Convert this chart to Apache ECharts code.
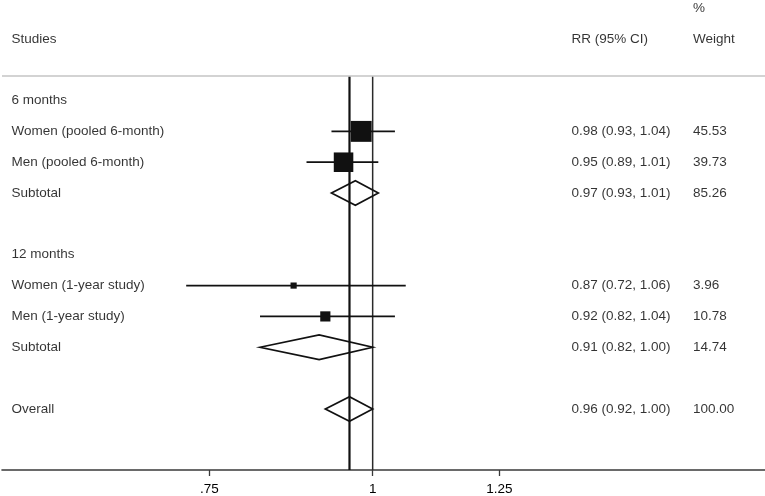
<!DOCTYPE html>
<html><head><meta charset="utf-8">
<script src="https://cdn.jsdelivr.net/npm/echarts@6/dist/echarts.min.js"></script>
<style>html,body{margin:0;padding:0;background:#fff}#c{width:765px;height:496px}</style>
</head><body><div id="c"></div>
<script>
// ---- data ----
const headerLabels = ['Studies', 'RR (95% CI)', '%', 'Weight'];
const rowLabels = ['6 months', 'Women (pooled 6-month)', 'Men (pooled 6-month)', 'Subtotal', '',
                   '12 months', 'Women (1-year study)', 'Men (1-year study)', 'Subtotal', '', 'Overall'];
const rowType = ['group', 'study', 'study', 'pooled', 'blank', 'group', 'study', 'study', 'pooled', 'blank', 'pooled'];
const rr     = [null, 0.98, 0.95, 0.97, null, null, 0.87, 0.92, 0.91, null, 0.96];
const ciLow  = [null, 0.93, 0.89, 0.93, null, null, 0.72, 0.82, 0.82, null, 0.92];
const ciHigh = [null, 1.04, 1.01, 1.01, null, null, 1.06, 1.04, 1.00, null, 1.00];
const weight = [null, 45.53, 39.73, 85.26, null, null, 3.96, 10.78, 14.74, null, 100.00];
const tickValues = [0.75, 1, 1.25];
const tickLabels = ['.75', '1', '1.25'];
const nullValue = 1;
const overallIndex = 10;

// ---- layout constants ----
const X_MIN = 0.5205, X_MAX = 1.996;
const Y_MIN = -3.26, Y_MAX = 11.98, SEP_ROW = -0.79;
const COL_STUDY = 11.5, COL_RR = 571.5, COL_W = 693;
const FONT = {fontFamily: '"Liberation Sans", Arial, sans-serif', fontSize: 13.5, color: '#000'};
const INK = '#111';

const ln = Math.log;
const studyData = [], pooledData = [], ciData = [], textData = [];
textData.push([COL_STUDY, -2, headerLabels[0]]);
textData.push([COL_RR, -2, headerLabels[1]]);
textData.push([COL_W, -3, headerLabels[2]]);
textData.push([COL_W, -2, headerLabels[3]]);
rowLabels.forEach((lab, i) => {
  if (lab) textData.push([COL_STUDY, i, lab]);
  if (rr[i] != null) {
    textData.push([COL_RR, i, rr[i].toFixed(2) + ' (' + ciLow[i].toFixed(2) + ', ' + ciHigh[i].toFixed(2) + ')']);
    textData.push([COL_W, i, weight[i].toFixed(2)]);
  }
  if (rowType[i] === 'study') {
    studyData.push([ln(rr[i]), i, weight[i]]);
    ciData.push([ln(ciLow[i]), ln(ciHigh[i]), i]);
  } else if (rowType[i] === 'pooled') {
    pooledData.push([ln(ciLow[i]), ln(rr[i]), ln(ciHigh[i]), i]);
  }
});
const refLines = [[ln(nullValue), 1.5, '#2a2a2a'], [ln(rr[overallIndex]), 2.2, '#111']];

const chart = echarts.init(document.getElementById('c'), null, {renderer: 'canvas'});
chart.setOption({
  animation: false,
  backgroundColor: '#fff',
  grid: {left: 2, right: 0, top: 0, bottom: 26, outerBoundsMode: 'none', containLabel: false},
  xAxis: [{
    type: 'value', min: ln(X_MIN), max: ln(X_MAX), position: 'bottom',
    axisLine: {show: true, onZero: false, lineStyle: {color: '#3a3a3a', width: 1.6}},
    axisTick: {show: true, length: 6, customValues: tickValues.map(v => ln(v)), lineStyle: {color: '#3a3a3a', width: 1.3}},
    axisLabel: {
      customValues: tickValues.map(v => ln(v)), margin: 12,
      fontFamily: FONT.fontFamily, fontSize: FONT.fontSize, color: FONT.color,
      formatter: v => { const k = tickValues.findIndex(t => Math.abs(ln(t) - v) < 1e-6); return k >= 0 ? tickLabels[k] : ''; }
    },
    splitLine: {show: false}
  }, {
    type: 'value', min: 2, max: 765, show: false
  }],
  yAxis: {type: 'value', min: Y_MIN, max: Y_MAX, inverse: true, show: false},
  series: [
    { // separator line
      type: 'line', data: [], xAxisIndex: 0,
      markLine: {silent: true, symbol: 'none', label: {show: false},
        lineStyle: {color: '#c4c4c4', width: 1.5, type: 'solid'}, data: [{yAxis: SEP_ROW}]}
    },
    { // reference lines (null and overall)
      type: 'custom', xAxisIndex: 0, data: refLines,
      renderItem: (params, api) => {
        const top = api.coord([api.value(0), SEP_ROW]);
        const bottom = params.coordSys.y + params.coordSys.height;
        return {type: 'line', shape: {x1: top[0], y1: top[1], x2: top[0], y2: bottom},
          style: {stroke: refLines[params.dataIndex][2], lineWidth: api.value(1)}};
      }
    },
    { // CI lines
      type: 'custom', xAxisIndex: 0, data: ciData, encode: {x: [0, 1], y: 2},
      renderItem: (params, api) => {
        const a = api.coord([api.value(0), api.value(2)]);
        const b = api.coord([api.value(1), api.value(2)]);
        return {type: 'line', shape: {x1: a[0], y1: a[1], x2: b[0], y2: b[1]}, style: {stroke: INK, lineWidth: 1.7}};
      }
    },
    { // squares
      type: 'scatter', xAxisIndex: 0, data: studyData, symbol: 'rect',
      symbolSize: v => 3.1 * Math.sqrt(v[2]),
      itemStyle: {color: INK, opacity: 1}
    },
    { // diamonds
      type: 'custom', xAxisIndex: 0, data: pooledData, encode: {x: [0, 2], y: 3},
      renderItem: (params, api) => {
        const l = api.coord([api.value(0), api.value(3)]);
        const c = api.coord([api.value(1), api.value(3)]);
        const r = api.coord([api.value(2), api.value(3)]);
        const h = 12.3;
        return {type: 'polygon', shape: {points: [[l[0], l[1]], [c[0], c[1] - h], [r[0], r[1]], [c[0], c[1] + h]]},
          style: {fill: 'rgba(255,255,255,0)', stroke: INK, lineWidth: 1.7, lineJoin: 'miter'}};
      }
    },
    { // texts
      type: 'scatter', xAxisIndex: 1, data: textData, symbolSize: 0, silent: true,
      label: {show: true, position: 'right', distance: 0, formatter: p => p.value[2],
        fontFamily: FONT.fontFamily, fontSize: FONT.fontSize, color: FONT.color}
    }
  ]
});
</script>
</body></html>
